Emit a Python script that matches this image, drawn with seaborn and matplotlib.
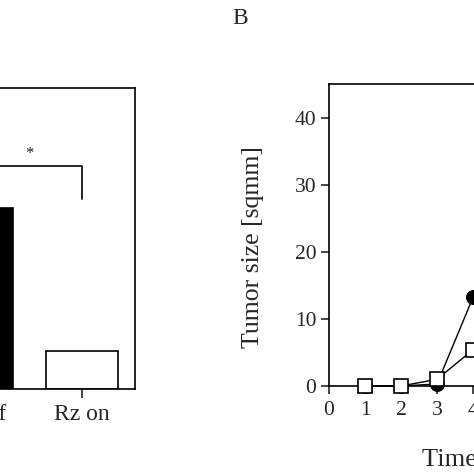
import numpy as np
import pandas as pd
import matplotlib
matplotlib.use("Agg")
import matplotlib.pyplot as plt
import seaborn as sns

# left panel (bars), mostly cut off in the crop
groups = ["Rz off", "Rz on"]
bar_values = [60.0, 12.6]

# right panel B: tumor size over time
weeks = [1, 2, 3, 4]
size_off = [0.0, 0.0, 0.3, 13.2]   # filled circles
size_on = [0.0, 0.0, 1.0, 5.4]     # open squares

sns.set_style("ticks")
plt.rcParams["font.family"] = ["Liberation Serif", "DejaVu Serif"]
plt.rcParams["axes.linewidth"] = 1.2

W = 474
fig = plt.figure(figsize=(4.74, 4.74), dpi=100)

# left axes, positioned partly off the figure like the crop
ax1 = fig.add_axes([-76 / W, 85 / W, 211 / W, 301 / W])
bars = pd.DataFrame({"group": groups, "value": bar_values})
sns.barplot(data=bars, x="group", y="value", hue="group",
            palette={"Rz off": "black", "Rz on": "white"},
            edgecolor="black", linewidth=1.2, width=0.68,
            legend=False, ax=ax1)
ax1.set_xlim(-0.5, 1.5)
ax1.set_ylim(0, 100)
ax1.set_xlabel("")
ax1.set_ylabel("")
ax1.set_yticks([])
for s in ax1.spines.values():
    s.set_visible(True)
    s.set_color("black")
ax1.tick_params(axis="x", length=6.5, width=1.2, direction="out", pad=4, labelsize=17)
# significance bracket
ax1.plot([0, 0, 1, 1], [63, 74, 74, 63], color="black", lw=1.2)
ax1.text(0.5, 75.5, "*", ha="center", va="bottom", fontsize=12)

# right axes (B)
ax2 = fig.add_axes([329 / W, 88 / W, 252 / W, 302 / W])
df = pd.DataFrame({"week": weeks + weeks,
                   "size": size_off + size_on,
                   "group": ["Rz off"] * 4 + ["Rz on"] * 4})
sns.lineplot(data=df[df.group == "Rz off"], x="week", y="size", color="black",
             lw=1.0, marker="o", markersize=10, markerfacecolor="black",
             markeredgecolor="black", clip_on=False, zorder=3, ax=ax2)
sns.lineplot(data=df[df.group == "Rz on"], x="week", y="size", color="black",
             lw=1.0, marker="s", markersize=9.5, markerfacecolor="white",
             markeredgecolor="black", markeredgewidth=1.2, clip_on=False,
             zorder=4, ax=ax2)
ax2.set_xlim(0, 7)
ax2.set_ylim(0, 45)
ax2.set_xticks(range(0, 8))
ax2.set_yticks([0, 10, 20, 30, 40])
for s in ax2.spines.values():
    s.set_visible(True)
    s.set_color("black")
ax2.tick_params(axis="both", length=6, width=1.2, direction="out", pad=3, labelsize=15.5)
ax2.tick_params(axis="x", pad=5)
ax2.set_ylabel("Tumor size [sqmm]", fontsize=18.5, va="center")
ax2.yaxis.set_label_coords(-0.30, 0.46)
ax2.set_xlabel("Time (weeks)", fontsize=19, ha="left", va="center")
ax2.xaxis.set_label_coords(0.369, -0.245)

fig.text(240 / W, 1 - 18 / W, "B", ha="center", va="center", fontsize=17)

fig.savefig("out.png", dpi=100)
